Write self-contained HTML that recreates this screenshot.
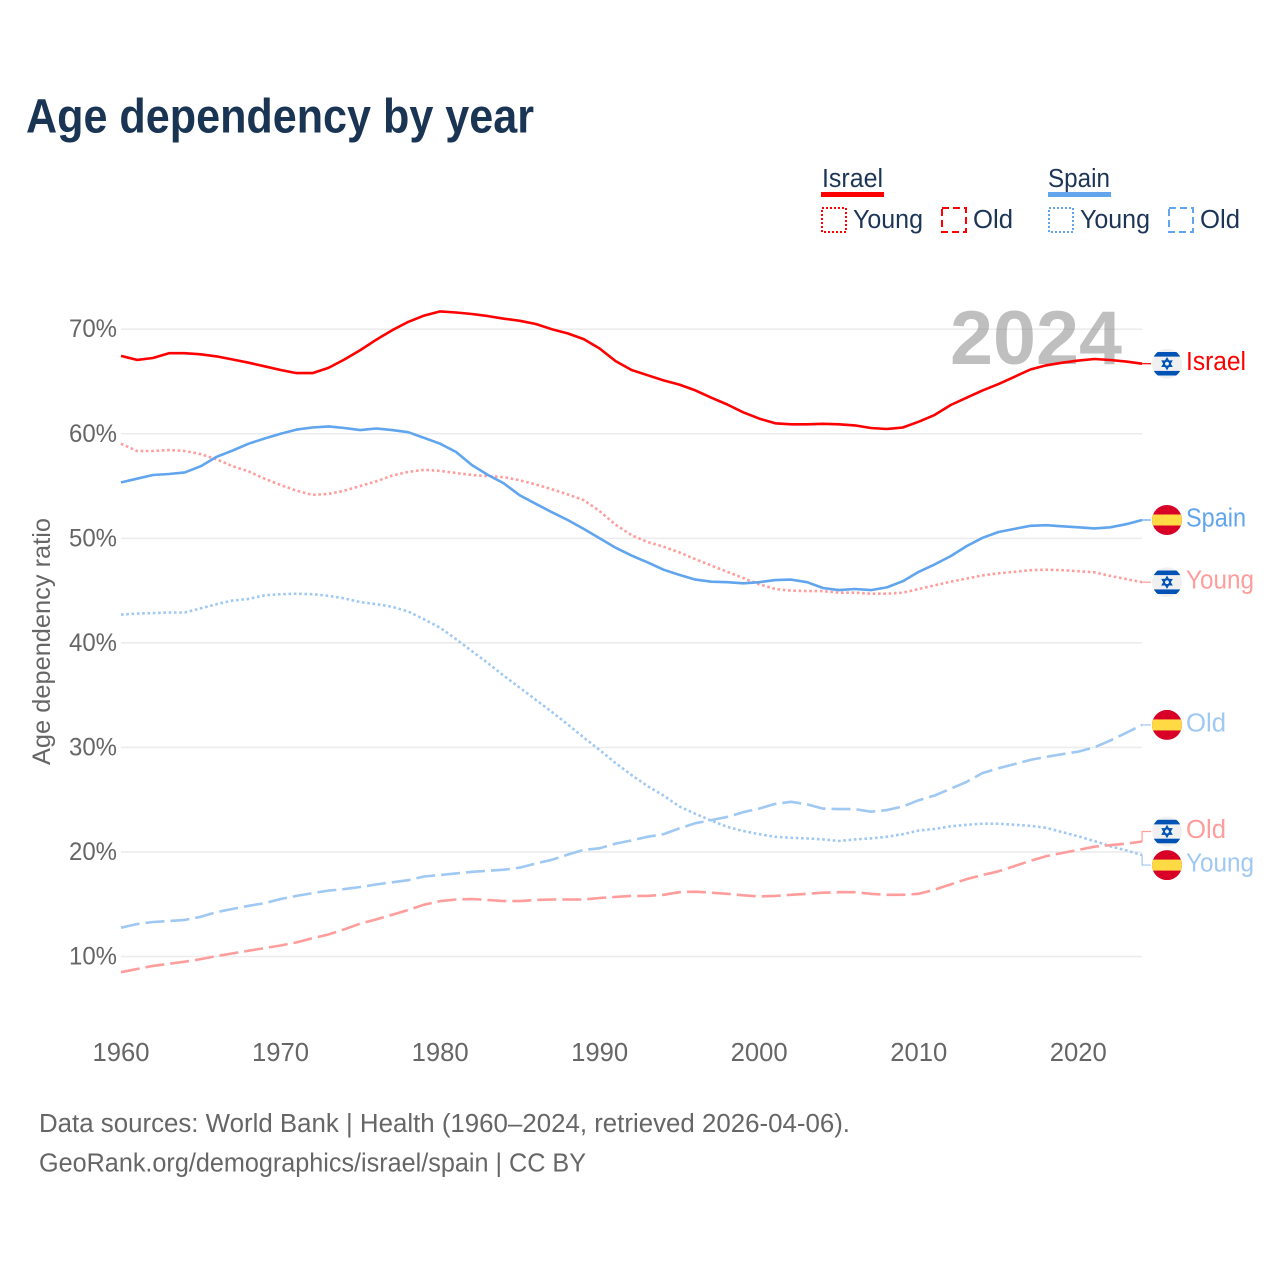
<!DOCTYPE html>
<html lang="en">
<head>
<meta charset="utf-8">
<title>Age dependency by year</title>
<style>
html,body{margin:0;padding:0;background:#fff}
svg{display:block}
text{font-family:"Liberation Sans",sans-serif}
</style>
</head>
<body>
<svg id="chart" xmlns="http://www.w3.org/2000/svg" width="1280" height="1280" viewBox="0 0 1280 1280">
  <rect width="1280" height="1280" fill="#fff"/>
  <text x="26" y="132.5" font-size="48" font-weight="700" fill="#1a3453" textLength="508" lengthAdjust="spacingAndGlyphs">Age dependency by year</text>

  <g font-size="25.5" fill="#1c3557">
    <text x="822" y="187" textLength="61" lengthAdjust="spacingAndGlyphs">Israel</text>
    <rect x="821" y="192" width="63" height="5" fill="#ff0000"/>
    <rect x="822" y="208" width="24" height="24" fill="none" stroke="#ff0000" stroke-width="2" stroke-dasharray="2,2"/>
    <text x="853" y="228" textLength="70" lengthAdjust="spacingAndGlyphs">Young</text>
    <rect x="942" y="208" width="24" height="24" fill="none" stroke="#ff0000" stroke-width="2" stroke-dasharray="7,4"/>
    <text x="973" y="228" textLength="40" lengthAdjust="spacingAndGlyphs">Old</text>
    <text x="1048" y="187" textLength="62" lengthAdjust="spacingAndGlyphs">Spain</text>
    <rect x="1048" y="192" width="63" height="5" fill="#60a5ee"/>
    <rect x="1049" y="208" width="24" height="24" fill="none" stroke="#60a5ee" stroke-width="2" stroke-dasharray="2,2"/>
    <text x="1080" y="228" textLength="70" lengthAdjust="spacingAndGlyphs">Young</text>
    <rect x="1169" y="208" width="24" height="24" fill="none" stroke="#60a5ee" stroke-width="2" stroke-dasharray="7,4"/>
    <text x="1200" y="228" textLength="40" lengthAdjust="spacingAndGlyphs">Old</text>
  </g>

  <g id="grid"></g>
  <text x="950" y="364" font-size="76" font-weight="700" fill="#808080" fill-opacity="0.5" textLength="172" lengthAdjust="spacingAndGlyphs">2024</text>
  <g id="yticks"></g>
  <g id="xticks"></g>
  <text transform="translate(50,641.5) rotate(-90)" text-anchor="middle" font-size="25" fill="#666" textLength="247" lengthAdjust="spacingAndGlyphs">Age dependency ratio</text>
  <g id="series"></g>
  <g id="labels"></g>

  <text x="39" y="1132" font-size="25.5" fill="#666" textLength="811" lengthAdjust="spacingAndGlyphs">Data sources: World Bank | Health (1960–2024, retrieved 2026-04-06).</text>
  <text x="39" y="1171.5" font-size="25.5" fill="#666" textLength="547" lengthAdjust="spacingAndGlyphs">GeoRank.org/demographics/israel/spain | CC BY</text>
</svg>
<script>
const years = [1960,1961,1962,1963,1964,1965,1966,1967,1968,1969,1970,1971,1972,1973,1974,1975,1976,1977,1978,1979,1980,1981,1982,1983,1984,1985,1986,1987,1988,1989,1990,1991,1992,1993,1994,1995,1996,1997,1998,1999,2000,2001,2002,2003,2004,2005,2006,2007,2008,2009,2010,2011,2012,2013,2014,2015,2016,2017,2018,2019,2020,2021,2022,2023,2024];
const yTickValues = [10,20,30,40,50,60,70];
const xTickValues = [1960,1970,1980,1990,2000,2010,2020];

const israelTotal = [67.45,67.06,67.25,67.7,67.7,67.6,67.4,67.1,66.8,66.45,66.1,65.8,65.8,66.3,67.1,68.0,69.0,69.9,70.7,71.3,71.7,71.6,71.45,71.25,71.0,70.8,70.5,70.0,69.6,69.05,68.15,66.95,66.1,65.6,65.1,64.7,64.15,63.45,62.8,62.05,61.45,61.0,60.9,60.9,60.95,60.9,60.8,60.55,60.45,60.6,61.15,61.8,62.75,63.45,64.15,64.75,65.45,66.15,66.55,66.8,67.0,67.15,67.05,66.9,66.7];
const spainTotal = [55.35,55.7,56.05,56.15,56.3,56.9,57.8,58.4,59.05,59.55,60.0,60.4,60.6,60.7,60.55,60.35,60.5,60.35,60.15,59.6,59.05,58.25,57.0,56.05,55.25,54.1,53.3,52.5,51.75,50.9,50.0,49.1,48.35,47.7,47.0,46.5,46.05,45.85,45.8,45.7,45.8,46.0,46.05,45.8,45.25,45.05,45.15,45.05,45.3,45.9,46.8,47.5,48.3,49.25,50.05,50.6,50.9,51.2,51.25,51.15,51.05,50.95,51.05,51.35,51.75];
const israelYoung = [59.05,58.35,58.35,58.45,58.35,58.05,57.55,56.9,56.4,55.7,55.1,54.55,54.15,54.25,54.55,55.0,55.45,56.0,56.35,56.55,56.45,56.25,56.05,55.95,55.85,55.55,55.15,54.7,54.2,53.65,52.6,51.3,50.3,49.65,49.2,48.65,48.0,47.4,46.8,46.2,45.6,45.15,45.0,44.95,44.95,44.8,44.8,44.7,44.7,44.8,45.15,45.5,45.85,46.15,46.45,46.65,46.8,46.95,47.0,46.95,46.85,46.75,46.4,46.1,45.8];
const spainYoung = [42.7,42.8,42.85,42.9,42.9,43.3,43.7,44.05,44.2,44.55,44.65,44.7,44.65,44.5,44.25,43.9,43.7,43.45,43.0,42.25,41.45,40.35,39.2,38.05,36.85,35.7,34.55,33.4,32.2,30.95,29.75,28.5,27.35,26.3,25.4,24.35,23.65,23.0,22.4,22.0,21.7,21.45,21.35,21.3,21.2,21.05,21.2,21.3,21.45,21.7,22.05,22.2,22.45,22.6,22.7,22.7,22.6,22.5,22.3,21.9,21.5,21.05,20.55,20.15,19.7];
const spainOld = [12.75,13.1,13.3,13.4,13.5,13.8,14.25,14.55,14.85,15.1,15.5,15.8,16.05,16.3,16.45,16.65,16.9,17.1,17.3,17.65,17.8,17.95,18.1,18.2,18.3,18.5,18.9,19.25,19.75,20.2,20.35,20.8,21.1,21.45,21.7,22.25,22.75,23.05,23.35,23.8,24.15,24.6,24.8,24.55,24.15,24.1,24.1,23.85,24.0,24.35,24.95,25.4,26.05,26.7,27.55,28.0,28.4,28.8,29.1,29.35,29.6,30.0,30.65,31.4,32.15];
const israelOld = [8.5,8.8,9.1,9.3,9.5,9.75,10.05,10.3,10.55,10.8,11.05,11.35,11.75,12.1,12.6,13.15,13.55,14.0,14.45,14.95,15.3,15.45,15.5,15.4,15.3,15.3,15.4,15.45,15.45,15.45,15.6,15.7,15.8,15.8,15.9,16.15,16.2,16.1,16.0,15.85,15.75,15.8,15.9,16.0,16.1,16.15,16.15,16.0,15.9,15.9,16.0,16.4,16.9,17.4,17.8,18.15,18.65,19.15,19.6,19.9,20.2,20.5,20.65,20.8,21.0];

const NS = 'http://www.w3.org/2000/svg';
function x(year){ return 121 + (year - 1960) * 15.955; }
function y(v){ return 956.5 - (v - 10) * 10.455; }
function make(tag, attrs, parent){
  const el = document.createElementNS(NS, tag);
  for (const k in attrs) el.setAttribute(k, attrs[k]);
  parent.appendChild(el);
  return el;
}

const gridG = document.getElementById('grid');
const yG = document.getElementById('yticks');
yTickValues.forEach(function(v){
  const line = make('line', {x1:121, x2:1142, y1:y(v), y2:y(v), stroke:'#ececec', 'stroke-width':1.6}, gridG);
  
  
  const t = make('text', {x:117, y:y(v)+8, 'text-anchor':'end', 'font-size':25, fill:'#666', textLength:48, lengthAdjust:'spacingAndGlyphs'}, yG);
  t.textContent = v + '%';
  
  
});

const xG = document.getElementById('xticks');
xTickValues.forEach(function(yr){
  const t = make('text', {x:x(yr), y:1061, 'text-anchor':'middle', 'font-size':25.5, fill:'#666', textLength:57, lengthAdjust:'spacingAndGlyphs'}, xG);
  t.textContent = String(yr);
  
  
});

const seriesG = document.getElementById('series');
const labelsG = document.getElementById('labels');

function drawSeries(id, values, color, dash, labelText, labelWidth, country, offset){
  const d = values.map(function(v, i){ return (i ? 'L' : 'M') + x(years[i]).toFixed(1) + ' ' + y(v).toFixed(1); }).join(' ');
  const attrs = {d:d, fill:'none', stroke:color, 'stroke-width':2.6, 'stroke-linejoin':'round'};
  if (dash) attrs['stroke-dasharray'] = dash;
  const path = make('path', attrs, seriesG);
  
  

  const endY = y(values[values.length - 1]);
  const endX = x(years[years.length - 1]);
  const labelY = endY + offset;
  const conn = make('path', {d:'M' + endX + ' ' + endY + ' L' + endX + ' ' + labelY + ' L1151 ' + labelY, fill:'none', stroke:color, 'stroke-width':1.2}, seriesG);
  
  

  const cx = 1167;
  const clipId = 'clip-' + id;
  const defs = make('clipPath', {id:clipId}, labelsG);
  make('circle', {cx:cx, cy:labelY, r:15}, defs);
  const flag = make('g', {'clip-path':'url(#' + clipId + ')'}, labelsG);
  
  
  if (country === 'israel') {
    make('rect', {x:cx-15, y:labelY-15, width:30, height:30, fill:'#f0f0f0'}, flag);
    make('rect', {x:cx-15, y:labelY-11.7, width:30, height:4.6, fill:'#0052b4'}, flag);
    make('rect', {x:cx-15, y:labelY+7.2, width:30, height:4.6, fill:'#0052b4'}, flag);
    const r = 5.2;
    make('path', {d:'M' + cx + ' ' + (labelY-r) + ' L' + (cx+r*0.866) + ' ' + (labelY+r/2) + ' L' + (cx-r*0.866) + ' ' + (labelY+r/2) + ' Z', fill:'none', stroke:'#0052b4', 'stroke-width':1.5}, flag);
    make('path', {d:'M' + cx + ' ' + (labelY+r) + ' L' + (cx+r*0.866) + ' ' + (labelY-r/2) + ' L' + (cx-r*0.866) + ' ' + (labelY-r/2) + ' Z', fill:'none', stroke:'#0052b4', 'stroke-width':1.5}, flag);
  } else {
    make('rect', {x:cx-15, y:labelY-15, width:30, height:30, fill:'#d80027'}, flag);
    make('rect', {x:cx-15, y:labelY-5.5, width:30, height:11, fill:'#ffda44'}, flag);
  }

  const t = make('text', {x:1186, y:labelY+6.5, 'font-size':25.5, fill:color, textLength:labelWidth, lengthAdjust:'spacingAndGlyphs'}, labelsG);
  t.textContent = labelText;
  
  
}

drawSeries('israel-young', israelYoung, '#ff9c9c', '2.6,2.7', 'Young', 68, 'israel', 0);
drawSeries('spain-young', spainYoung, '#9fc8f2', '2.6,2.7', 'Young', 68, 'spain', 10);
drawSeries('israel-old', israelOld, '#ff9c9c', '19,6', 'Old', 40, 'israel', -10);
drawSeries('spain-old', spainOld, '#9fc8f2', '19,6', 'Old', 40, 'spain', 0);
drawSeries('spain-total', spainTotal, '#60a5ee', '', 'Spain', 60, 'spain', 0);
drawSeries('israel-total', israelTotal, '#ff0000', '', 'Israel', 60, 'israel', 0);
</script>
</body>
</html>
